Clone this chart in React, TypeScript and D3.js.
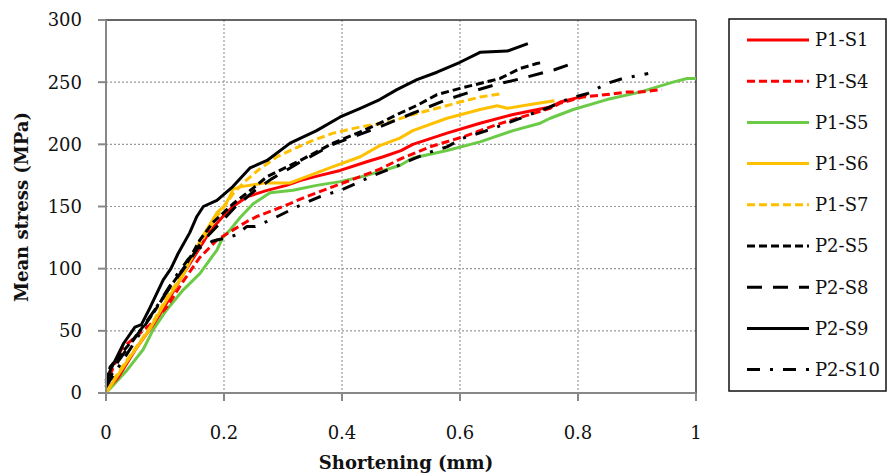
import React from "react";
import * as d3 from "d3";

type Pt = [number, number];

const P1_S1: Pt[] = [[0,2],[0.02,12],[0.05,35],[0.08,55],[0.1,70],[0.13,95],[0.15,110],[0.176,130],[0.2,143],[0.215,150],[0.24,158],[0.273,163],[0.306,167],[0.33,171],[0.363,175],[0.397,179],[0.442,186],[0.47,190],[0.5,195],[0.52,200],[0.578,209],[0.634,217],[0.69,224],[0.753,230],[0.77,234],[0.803,238],[0.815,240]];
const P1_S4: Pt[] = [[0,5],[0.01,18],[0.027,36],[0.05,45],[0.075,55],[0.103,69],[0.131,90],[0.159,109],[0.188,123],[0.215,131],[0.239,138],[0.256,142],[0.3,150],[0.34,158],[0.385,166],[0.425,173],[0.464,180],[0.498,188],[0.549,198],[0.605,206],[0.663,216],[0.719,224],[0.753,229],[0.769,233],[0.808,238],[0.849,240],[0.883,242],[0.905,242],[0.942,244]];
const P1_S5: Pt[] = [[0,0],[0.035,18],[0.063,35],[0.08,51],[0.103,67],[0.131,83],[0.159,96],[0.188,115],[0.198,125],[0.21,131],[0.227,141],[0.249,152],[0.278,161],[0.317,163],[0.357,167],[0.397,170],[0.442,175],[0.498,183],[0.52,189],[0.578,195],[0.634,202],[0.69,211],[0.736,217],[0.753,221],[0.792,228],[0.849,236],[0.905,242],[0.961,250],[0.985,253],[1.0,253]];
const P1_S6: Pt[] = [[0,0],[0.035,25],[0.075,52],[0.103,75],[0.131,95],[0.159,122],[0.188,145],[0.2,150],[0.21,158],[0.215,164],[0.23,166],[0.27,169],[0.312,169],[0.34,174],[0.385,182],[0.431,190],[0.464,199],[0.498,205],[0.52,211],[0.578,221],[0.634,228],[0.663,231],[0.68,229],[0.719,232],[0.76,235]];
const P1_S7: Pt[] = [[0,2],[0.035,26],[0.075,53],[0.103,77],[0.131,96],[0.159,120],[0.188,142],[0.205,153],[0.215,160],[0.235,170],[0.26,180],[0.29,190],[0.312,195],[0.35,203],[0.385,209],[0.431,214],[0.481,218],[0.52,224],[0.561,229],[0.6,234],[0.634,238],[0.673,241]];
const P2_S5: Pt[] = [[0,10],[0.007,21],[0.046,43],[0.08,64],[0.108,85],[0.137,104],[0.159,123],[0.181,137],[0.215,152],[0.25,165],[0.273,174],[0.329,187],[0.385,201],[0.431,210],[0.464,217],[0.498,225],[0.53,232],[0.561,240],[0.6,245],[0.651,251],[0.668,253],[0.702,261],[0.73,265],[0.741,266]];
const P2_S8: Pt[] = [[0,5],[0.02,25],[0.05,45],[0.08,65],[0.11,86],[0.14,105],[0.16,120],[0.19,135],[0.22,150],[0.25,162],[0.28,172],[0.33,186],[0.385,200],[0.43,208],[0.464,214],[0.52,225],[0.578,236],[0.617,242],[0.66,248],[0.705,253],[0.744,258],[0.76,260],[0.79,265]];
const P2_S9: Pt[] = [[0,8],[0.007,18],[0.03,40],[0.049,53],[0.06,55],[0.075,69],[0.097,91],[0.11,100],[0.122,112],[0.142,129],[0.154,142],[0.165,150],[0.188,155],[0.215,166],[0.244,181],[0.273,187],[0.312,201],[0.357,211],[0.397,222],[0.431,229],[0.464,236],[0.493,244],[0.527,252],[0.561,258],[0.6,266],[0.634,274],[0.68,275],[0.715,281]];
const P2_S10: Pt[] = [[0,5],[0.02,20],[0.05,42],[0.08,65],[0.1,80],[0.12,95],[0.14,108],[0.16,117],[0.18,122],[0.197,124],[0.22,127],[0.239,134],[0.253,134],[0.278,139],[0.329,151],[0.363,158],[0.397,163],[0.431,170],[0.453,175],[0.486,181],[0.515,187],[0.544,193],[0.578,198],[0.605,205],[0.639,210],[0.663,214],[0.697,220],[0.724,225],[0.747,229],[0.786,237],[0.817,241],[0.849,249],[0.876,253],[0.91,256],[0.919,257]];

const seriesNames = ["P1-S1","P1-S4","P1-S5","P1-S6","P1-S7","P2-S5","P2-S8","P2-S9","P2-S10"];
const seriesData = [P1_S1,P1_S4,P1_S5,P1_S6,P1_S7,P2_S5,P2_S8,P2_S9,P2_S10];
const seriesColors = ["#FF0000","#FF0000","#6CCB46","#FFC000","#FFC000","#000000","#000000","#000000","#000000"];
const seriesDash = ["none","8,4","none","none","8,4","8,4","15,11","none","13,10,3,10"];

const xTicks = [0, 0.2, 0.4, 0.6, 0.8, 1];
const xTickLabels = ["0","0.2","0.4","0.6","0.8","1"];
const yTicks = [0, 50, 100, 150, 200, 250, 300];

const W = 890, H = 473;
const left = 106, right = 696, top = 20, bottom = 393;
const FONT = "'DejaVu Serif', serif";

export default function App() {
  const x = d3.scaleLinear().domain([0, 1]).range([left, right]);
  const y = d3.scaleLinear().domain([0, 300]).range([bottom, top]);
  const line = d3.line<Pt>().x(d => x(d[0])).y(d => y(d[1]));
  const drawOrder = [2, 1, 0, 3, 4, 8, 6, 5, 7];
  return (
    <svg width={W} height={H} style={{ position: "absolute", left: 0, top: 0, background: "#fff" }}>
      {/* grid */}
      {yTicks.filter(t => t > 0 && t < 300).map(t => (
        <line key={"gy" + t} x1={left} x2={right} y1={y(t)} y2={y(t)} stroke="#999" strokeWidth={1.2} strokeDasharray="2,2" />
      ))}
      {xTicks.filter(t => t > 0 && t < 1).map(t => (
        <line key={"gx" + t} x1={x(t)} x2={x(t)} y1={top} y2={bottom} stroke="#999" strokeWidth={1.2} strokeDasharray="2,2" />
      ))}
      <line x1={left} x2={right} y1={y(300)} y2={y(300)} stroke="#333" strokeWidth={1.5} />
      <line x1={x(1)} x2={x(1)} y1={top} y2={bottom} stroke="#333" strokeWidth={1.5} />
      {/* series */}
      <g clipPath="url(#clip)">
        {drawOrder.map(i => (
          <path key={seriesNames[i]} d={line(seriesData[i]) || ""} fill="none" stroke={seriesColors[i]}
            strokeWidth={3} strokeDasharray={seriesDash[i] === "none" ? undefined : seriesDash[i]}
            strokeLinejoin="round" />
        ))}
      </g>
      <defs>
        <clipPath id="clip"><rect x={left - 2} y={top - 4} width={right - left + 4} height={bottom - top + 4} /></clipPath>
      </defs>
      {/* axes */}
      <line x1={left} x2={left} y1={top} y2={bottom} stroke="#888" strokeWidth={2} />
      <line x1={left} x2={right} y1={bottom} y2={bottom} stroke="#888" strokeWidth={2} />
      {yTicks.map(t => (
        <g key={"yt" + t}>
          <line x1={left - 8} x2={left} y1={y(t)} y2={y(t)} stroke="#888" strokeWidth={2} />
          <text x={82} y={y(t)} dy="0.36em" textAnchor="end" fontFamily={FONT} fontSize={18} fill="#111">{t}</text>
        </g>
      ))}
      {xTicks.map((t, i) => (
        <g key={"xt" + t}>
          <line x1={x(t)} x2={x(t)} y1={bottom} y2={bottom + 8} stroke="#888" strokeWidth={2} />
          <text x={x(t)} y={439} textAnchor="middle" fontFamily={FONT} fontSize={18} fill="#111">{xTickLabels[i]}</text>
        </g>
      ))}
      <text x={406} y={469} textAnchor="middle" fontFamily={FONT} fontSize={18} fontWeight="bold" fill="#111">Shortening (mm)</text>
      <text transform="translate(28,207) rotate(-90)" textAnchor="middle" fontFamily={FONT} fontSize={18} fontWeight="bold" fill="#111">Mean stress (MPa)</text>
      {/* legend */}
      <rect x={729} y={19} width={157} height={372} fill="#fff" stroke="#111" strokeWidth={1.5} />
      {seriesNames.map((n, i) => {
        const ly = 40 + i * 41.2;
        return (
          <g key={"lg" + n}>
            <line x1={747} x2={809} y1={ly} y2={ly} stroke={seriesColors[i]} strokeWidth={3}
              strokeDasharray={seriesDash[i] === "none" ? undefined : seriesDash[i]} />
            <text x={815} y={ly} dy="0.36em" fontFamily={FONT} fontSize={18} fill="#111">{n}</text>
          </g>
        );
      })}
    </svg>
  );
}
